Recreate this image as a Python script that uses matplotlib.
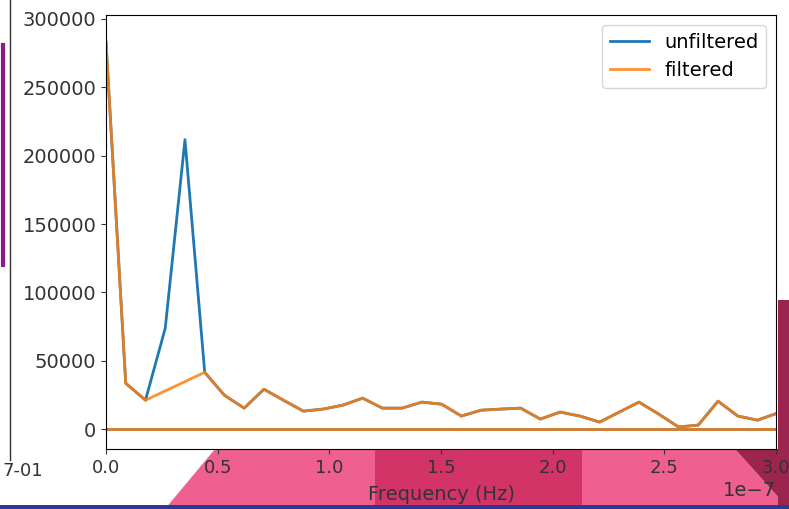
import numpy as np
import matplotlib
matplotlib.use("Agg")
import matplotlib.pyplot as plt
from matplotlib.patches import Polygon

# ---- data ----
freq_step = 8.84e-9  # Hz between FFT bins
bin_index = list(range(35))
unfiltered = [283000, 33500, 21100, 73700, 211700, 41500, 24700, 15300, 29100, 21000,
              13100, 14600, 17500, 22600, 15300, 15300, 19700, 18200, 9500, 13800,
              14600, 15300, 7300, 12400, 9500, 5100, 12400, 19700, 10900, 1500,
              2900, 20400, 9500, 6500, 11600]
removed_bins = [3, 4]  # bins zeroed out by the filter
filtered_index = [i for i in bin_index if i not in removed_bins]
filtered = [unfiltered[i] for i in filtered_index]
wrap_level = 0  # level of the wrap-around segment (high-frequency bins)

x_unf = np.array(bin_index) * freq_step
x_fil = np.array(filtered_index) * freq_step

W, H = 789, 509
fig = plt.figure(figsize=(W / 100, H / 100), dpi=100)
fig.patch.set_facecolor("white")

def px(x, y):
    return (x / W, 1 - y / H)

# background decoration of the screenshot
deco = [
    ([(165, 509), (215, 449), (375, 449), (375, 509)], "#ef5f8f"),
    ([(375, 449), (582, 449), (582, 509), (375, 509)], "#d23467"),
    ([(582, 449), (735, 449), (789, 509), (582, 509)], "#ef5f8f"),
    ([(735, 449), (789, 449), (789, 509)], "#9c2550"),
    ([(778, 300), (789, 300), (789, 509), (778, 509)], "#9c2550"),
    ([(0, 505), (789, 505), (789, 509), (0, 509)], "#2b3a8c"),
]
for pts, col in deco:
    fig.patches.append(Polygon([px(*p) for p in pts], closed=True, transform=fig.transFigure,
                               facecolor=col, edgecolor="none", zorder=-5))
fig.add_artist(plt.Line2D([10 / W, 10 / W], [1 - 460 / H, 1.0], transform=fig.transFigure,
                          color="#333333", lw=1, zorder=-5))
fig.add_artist(plt.Line2D([3 / W, 3 / W], [1 - 265 / H, 1 - 45 / H], transform=fig.transFigure,
                          color="#8b1a8b", lw=3, zorder=-5))
fig.text(2 / W, 1 - 471 / H, "7-01", fontsize=13, color="#333333", va="center", ha="left")

ax = fig.add_axes([106 / W, 1 - 449 / H, (776 - 106) / W, (449 - 15) / H])
ax.set_zorder(5)
ax.set_facecolor("white")

blue = "#1f77b4"
orange = "#ff7f0e"
ax.plot(x_unf, unfiltered, color=blue, lw=2, label="unfiltered")
ax.plot(x_fil, filtered, color=orange, lw=2, label="filtered", alpha=0.85)
ax.axhline(wrap_level, color=blue, lw=2)
ax.axhline(wrap_level, color=orange, lw=2, alpha=0.85)

ax.set_xlim(0, 3e-7)
ax.set_ylim(-14600, 302900)
ax.set_yticks([0, 50000, 100000, 150000, 200000, 250000, 300000])
ax.tick_params(axis="y", labelsize=14, colors="#333333")
ax.tick_params(axis="x", labelsize=13, colors="#333333")
ax.set_xlabel("Frequency (Hz)", fontsize=14, color="#333333", labelpad=6)
ax.xaxis.get_offset_text().set_fontsize(14)
ax.legend(loc="upper right", fontsize=14, frameon=True)

fig.savefig("out.png", dpi=100)
